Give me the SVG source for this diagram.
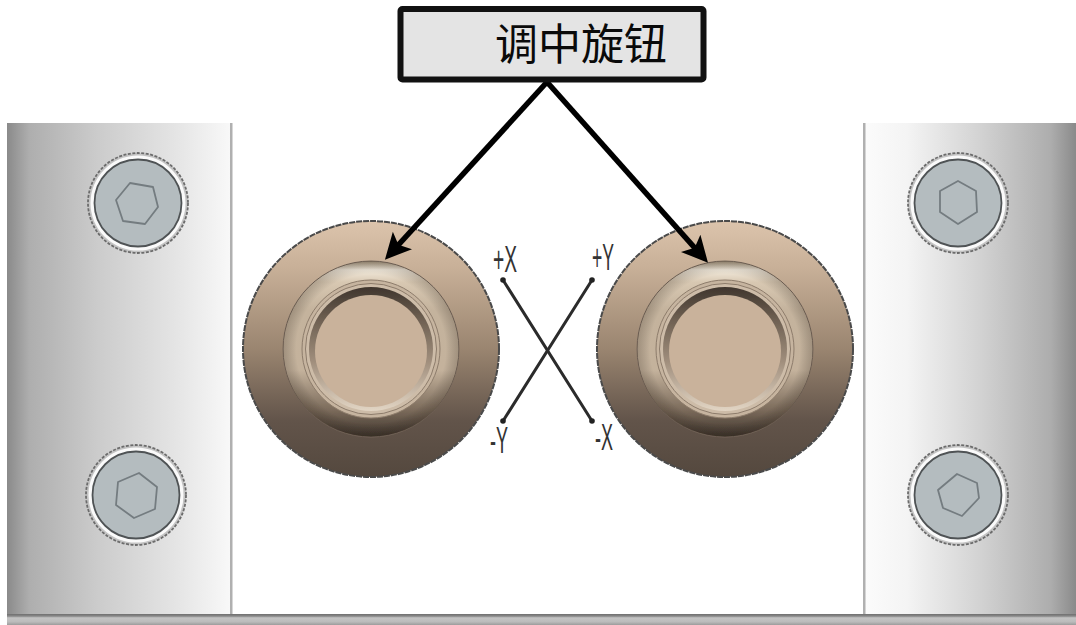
<svg xmlns="http://www.w3.org/2000/svg" width="1076" height="625" viewBox="0 0 1076 625">
<defs>
<filter id="soft" x="-5%" y="-5%" width="110%" height="110%"><feGaussianBlur stdDeviation="0.7"/></filter>
<filter id="soft3" x="-30%" y="-30%" width="160%" height="160%"><feGaussianBlur stdDeviation="3"/></filter>
<linearGradient id="lp" x1="0" x2="1" y1="0" y2="0"><stop offset="0" stop-color="#8a8a8a"/><stop offset=".1" stop-color="#aeaeae"/><stop offset=".4" stop-color="#cbcbcb"/><stop offset=".75" stop-color="#e4e4e4"/><stop offset="1" stop-color="#f8f8f8"/></linearGradient>
<linearGradient id="rp" x1="1" x2="0" y1="0" y2="0"><stop offset="0" stop-color="#8a8a8a"/><stop offset=".12" stop-color="#adadad"/><stop offset=".45" stop-color="#d2d2d2"/><stop offset=".8" stop-color="#f4f4f4"/><stop offset="1" stop-color="#fbfbfb"/></linearGradient>
<linearGradient id="band" x1="0" x2="0" y1="0" y2="1"><stop offset="0" stop-color="#6e6e6e"/><stop offset=".2" stop-color="#8a8a8a"/><stop offset=".35" stop-color="#c4c4c4"/><stop offset=".7" stop-color="#bcbcbc"/><stop offset="1" stop-color="#9c9c9c"/></linearGradient>
<linearGradient id="base" x1="0" x2="0" y1="0" y2="1"><stop offset="0" stop-color="#dcc4ac"/><stop offset=".18" stop-color="#c8b098"/><stop offset=".5" stop-color="#9a8570"/><stop offset=".78" stop-color="#62544a"/><stop offset="1" stop-color="#54483e"/></linearGradient>
<linearGradient id="ringShade" x1="0" x2="0" y1="0" y2="1"><stop offset="0" stop-color="#a89880"/><stop offset=".05" stop-color="#f2eadc"/><stop offset=".12" stop-color="#d8c8b2"/><stop offset=".28" stop-color="#c4b39d"/><stop offset=".62" stop-color="#c4b29c"/><stop offset=".85" stop-color="#7a6a5a"/><stop offset="1" stop-color="#3e342c"/></linearGradient>
<radialGradient id="ringEdge"><stop offset=".85" stop-color="#000" stop-opacity="0"/><stop offset="1" stop-color="#1e140c" stop-opacity=".22"/></radialGradient>
<linearGradient id="groove" x1="0" x2="0" y1="0" y2="1"><stop offset="0" stop-color="#3f352d"/><stop offset=".25" stop-color="#6c5e50"/><stop offset=".6" stop-color="#a08e7c"/><stop offset="1" stop-color="#e2d5c4"/></linearGradient>
<marker id="ah" markerUnits="userSpaceOnUse" markerWidth="34" markerHeight="30" refX="17" refY="14" orient="auto"><path d="M0 1 L26 14 L0 27 L6 14 Z" fill="#000"/></marker>
<g id="knob">
<circle r="128" fill="url(#base)" stroke="#4a4a4a" stroke-width="2" stroke-dasharray="6 1"/>
<g filter="url(#soft)">
<circle r="88" fill="url(#ringShade)" stroke="#75665a" stroke-width="1"/>
<circle r="88" fill="url(#ringEdge)"/>
<circle r="69" fill="#c6b49f" stroke="#8d7c6b" stroke-width="1"/>
<circle r="65.500" fill="#cdbca8" stroke="#8d7c6b" stroke-width="1"/>
<circle r="62" fill="url(#groove)"/>
<circle cy="2" r="56" fill="#c9b29b"/>
</g>
</g>
<g id="bolt">
<circle r="50" fill="#c4c4c4" stroke="#6c6c6c" stroke-width="1.800" stroke-dasharray="3 1.500"/>
<circle r="47.500" fill="#fafafa"/>
<circle r="43.500" fill="#b4bcbf" stroke="#4f5355" stroke-width="1.800"/>
</g>
</defs>
<style>
text{font-family:"Liberation Sans","Noto Sans CJK SC",sans-serif}
.hex{fill:none;stroke:#747c80;stroke-width:1.800;stroke-linejoin:round}
.ax{fill:none;stroke:#2b2b2b;stroke-width:3;stroke-linecap:round}
.dot{fill:#222}
.lb{font-size:36px;fill:#333;text-anchor:middle}
</style>
<rect width="1076" height="625" fill="#fff"/>
<g id="plate" filter="url(#soft)">
<rect x="7" y="123" width="223" height="492" fill="url(#lp)"/>
<rect x="865" y="123" width="211" height="492" fill="url(#rp)"/>
<rect x="230" y="123" width="2.500" height="502" fill="#b0b0b0"/>
<rect x="863" y="123" width="2.500" height="502" fill="#b0b0b0"/>
<rect x="7" y="614" width="1069" height="11" fill="url(#band)"/>
</g>
<g id="bolt-tl"><use href="#bolt" x="138" y="203"/><polygon class="hex" points="130,183 153,187 158,207 145,224 123,221 116,200"/></g>
<g id="bolt-bl"><use href="#bolt" x="136" y="495"/><polygon class="hex" points="139,473 157,487 155,509 134,518 116,505 118,482"/></g>
<g id="bolt-tr"><use href="#bolt" x="958" y="203"/><polygon class="hex" points="958,181 976,191 977,212 958,224 940,212 940,191"/></g>
<g id="bolt-br"><use href="#bolt" x="958" y="495"/><polygon class="hex" points="957,474 977,483 979,498 962,516 943,508 938,490"/></g>
<g id="knob-left"><use href="#knob" x="371" y="349"/></g>
<g id="knob-right"><use href="#knob" x="725" y="349"/></g>
<g id="axes">
<path class="ax" d="M503 280 L592 421"/>
<path class="ax" d="M592 280 L503 421"/>
<circle class="dot" cx="503" cy="280" r="2.800"/><circle class="dot" cx="592" cy="280" r="2.800"/><circle class="dot" cx="503" cy="421" r="2.800"/><circle class="dot" cx="592" cy="421" r="2.800"/>
<text class="lb" x="505" y="272" textLength="24" lengthAdjust="spacingAndGlyphs">+X</text>
<text class="lb" x="603" y="270" textLength="22" lengthAdjust="spacingAndGlyphs">+Y</text>
<text class="lb" x="499" y="453" textLength="18" lengthAdjust="spacingAndGlyphs">-Y</text>
<text class="lb" x="604" y="450" textLength="18" lengthAdjust="spacingAndGlyphs">-X</text>
</g>
<g id="connectors" fill="none" stroke="#000" stroke-width="5.500">
<path d="M547 82 L391 253" marker-end="url(#ah)"/>
<path d="M547 82 L702 256" marker-end="url(#ah)"/>
</g>
<g id="label-box">
<rect x="400.500" y="9" width="303" height="70.500" rx="2" fill="#e4e4e4" stroke="#111" stroke-width="6"/>
<text x="581" y="60" font-size="43" text-anchor="middle" fill="#0a0a0a" font-family="'Noto Sans CJK SC',sans-serif">调中旋钮</text>
</g>
</svg>
